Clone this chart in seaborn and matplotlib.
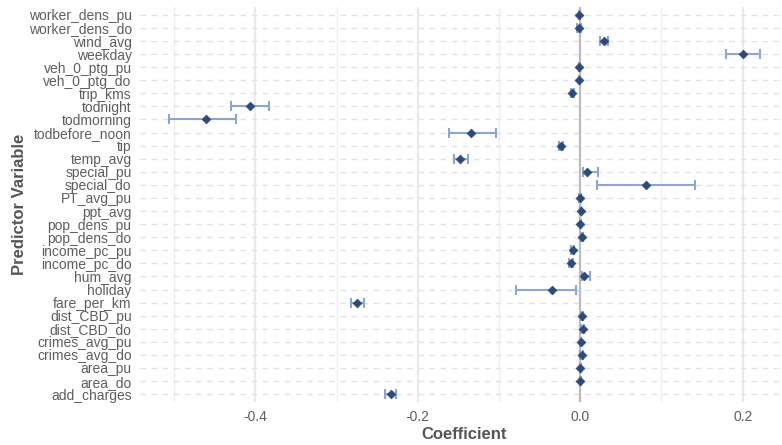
import numpy as np
import pandas as pd
import matplotlib
matplotlib.use("Agg")
import matplotlib.pyplot as plt
import seaborn as sns

# categories listed bottom-to-top
variables = ["add_charges", "area_do", "area_pu", "crimes_avg_do", "crimes_avg_pu",
             "dist_CBD_do", "dist_CBD_pu", "fare_per_km", "holiday", "hum_avg",
             "income_pc_do", "income_pc_pu", "pop_dens_do", "pop_dens_pu", "ppt_avg",
             "PT_avg_pu", "special_do", "special_pu", "temp_avg", "tip",
             "todbefore_noon", "todmorning", "todnight", "trip_kms", "veh_0_ptg_do",
             "veh_0_ptg_pu", "weekday", "wind_avg", "worker_dens_do", "worker_dens_pu"]
coef = [-0.2330, 0.0000, 0.0000, 0.0017, 0.0009,
        0.0033, 0.0017, -0.2746, -0.0352, 0.0046,
        -0.0118, -0.0094, 0.0017, 0.0000, 0.0004,
        0.0000, 0.0805, 0.0086, -0.1480, -0.0240,
        -0.1350, -0.4606, -0.4070, -0.0098, -0.0010,
        -0.0010, 0.2000, 0.0290, -0.0010, -0.0010]
ci_low = [-0.2405, -0.0005, -0.0005, 0.0000, -0.0005,
          0.0015, 0.0005, -0.2820, -0.0796, 0.0017,
          -0.0135, -0.0112, 0.0005, -0.0005, -0.0005,
          -0.0010, 0.0210, 0.0037, -0.1555, -0.0260,
          -0.1610, -0.5057, -0.4300, -0.0115, -0.0015,
          -0.0015, 0.1790, 0.0240, -0.0040, -0.0020]
ci_high = [-0.2266, 0.0005, 0.0005, 0.0030, 0.0015,
           0.0050, 0.0030, -0.2664, -0.0057, 0.0116,
           -0.0095, -0.0078, 0.0030, 0.0005, 0.0010,
           0.0010, 0.1410, 0.0220, -0.1380, -0.0215,
           -0.1040, -0.4244, -0.3830, -0.0080, 0.0000,
           0.0000, 0.2210, 0.0345, 0.0010, 0.0000]

df = pd.DataFrame({"variable": variables, "coef": coef,
                   "lo": ci_low, "hi": ci_high})
df["pos"] = np.arange(len(df))

sns.set_theme(style="white")
plt.rcParams["font.family"] = ["Liberation Sans", "DejaVu Sans"]

fig = plt.figure(figsize=(7.82, 4.45), dpi=100)
ax = fig.add_axes([140 / 782, 1 - 402 / 445, 649 / 782, 395 / 445])

# grid
for x in [-0.4, -0.2, 0.0, 0.2]:
    ax.axvline(x, color="#ebebeb", lw=1.6, zorder=0)
for x in [-0.5, -0.3, -0.1, 0.1]:
    ax.axvline(x, color="#efefef", lw=1.0, zorder=0)
for y in df["pos"]:
    ax.axhline(y, color="#e3e3e3", lw=1.0, ls=(0, (4, 4)), zorder=0)

ax.axvline(0, color="#bdbdbd", lw=1.6, zorder=1)

ax.errorbar(df["coef"], df["pos"],
            xerr=[df["coef"] - df["lo"], df["hi"] - df["coef"]],
            fmt="none", ecolor="#8ea7d2", elinewidth=1.5, capsize=3.8,
            capthick=1.5, zorder=2)
sns.scatterplot(data=df, x="coef", y="pos", marker="D", s=20,
                color="#2e4a7b", edgecolor="#2e4a7b", linewidth=0.5,
                ax=ax, zorder=3, legend=False)

ax.set_xlim(-0.542, 0.257)
ax.set_ylim(-0.6, len(df) - 0.4)
ax.set_yticks(df["pos"])
ax.set_yticklabels(df["variable"])
ax.set_xticks([-0.4, -0.2, 0.0, 0.2])
ax.set_xticklabels(["-0.4", "-0.2", "0.0", "0.2"])
ax.tick_params(axis="both", length=0, labelsize=10, colors="#5e5e5e")
ax.tick_params(axis="y", pad=6)
ax.tick_params(axis="x", pad=6)
for s in ax.spines.values():
    s.set_visible(False)

ax.set_xlabel("Coefficient", fontsize=12, fontweight="bold", color="#555555", labelpad=2)
ax.set_ylabel("Predictor Variable", fontsize=12, fontweight="bold", color="#555555")
ax.yaxis.set_label_coords(-113 / 649, 0.5)

fig.savefig("out.png", dpi=100)
